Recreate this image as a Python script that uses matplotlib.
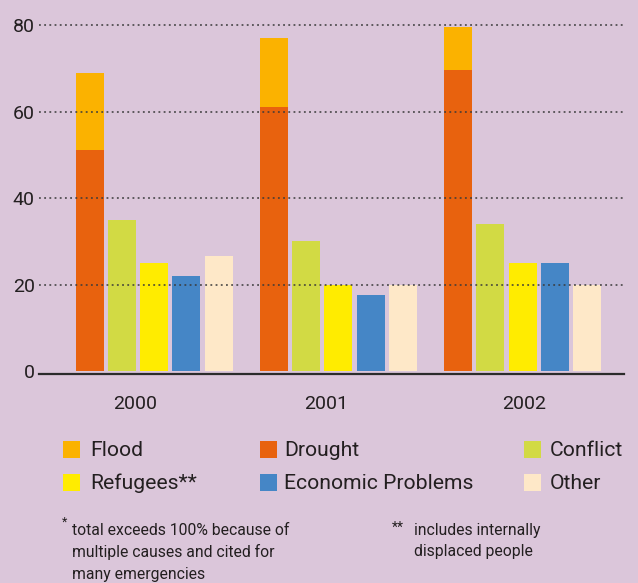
import matplotlib
matplotlib.use("Agg")
import matplotlib.pyplot as plt
from matplotlib.patches import Rectangle
import numpy as np

plt.rcParams['font.family'] = ['Roboto', 'DejaVu Sans']

# ---- data ----
years = ["2000", "2001", "2002"]
drought = [51, 61, 69.5]
flood = [18, 16, 10]          # stacked on top of drought
conflict = [35, 30, 34]
refugees = [25, 20, 25]
economic = [22, 17.5, 25]
other = [26.5, 20, 20]
yticks = [0, 20, 40, 60, 80]

colors = {
    "Flood": "#fbb200",
    "Drought": "#e8620e",
    "Conflict": "#d2da44",
    "Refugees": "#ffec00",
    "Economic": "#4586c6",
    "Other": "#fee8c8",
}
bg = "#dbc6da"
txt = "#231f20"

W, H = 638, 583
fig = plt.figure(figsize=(W / 100, H / 100), dpi=100, facecolor=bg)


def fx(x):
    return x / W


def fy(y):
    return 1 - y / H


ax = fig.add_axes([fx(39), fy(374), fx(624) - fx(39), fy(16) - fy(374)])
ax.set_facecolor(bg)

x = np.arange(len(years))
w = 0.152
step = 0.1753

ax.bar(x - 2 * step, drought, w, color=colors["Drought"], zorder=3)
ax.bar(x - 2 * step, flood, w, bottom=drought, color=colors["Flood"], zorder=3)
ax.bar(x - 1 * step, conflict, w, color=colors["Conflict"], zorder=3)
ax.bar(x + 0 * step, refugees, w, color=colors["Refugees"], zorder=3)
ax.bar(x + 1 * step, economic, w, color=colors["Economic"], zorder=3)
ax.bar(x + 2 * step, other, w, color=colors["Other"], zorder=3)

ax.set_xlim(-0.625, 2.550)
ax.set_ylim(-0.69, 82.1)

for v in yticks[1:]:
    ax.axhline(v, color="#3a3a3a", linewidth=1.1, linestyle=(0, (1.2, 2.2)), zorder=4)

ax.set_yticks(yticks)
ax.set_yticklabels([str(v) for v in yticks])
label_offsets = [-0.104, -0.069, 0.008]
ax.set_xticks(x + np.array(label_offsets))
ax.set_xticklabels(years)
ax.tick_params(axis="y", length=0, pad=3, labelsize=14, labelcolor=txt)
ax.tick_params(axis="x", length=0, pad=15, labelsize=14, labelcolor=txt)

for s in ["left", "right", "top"]:
    ax.spines[s].set_visible(False)
ax.spines["bottom"].set_color("#2b2b2b")
ax.spines["bottom"].set_linewidth(1.6)
ax.spines["bottom"].set_zorder(5)

# ---- legend ----
legend_items = [
    ("Flood", "Flood", 62.7, 441, 90),
    ("Drought", "Drought", 260, 441, 284),
    ("Conflict", "Conflict", 524, 441, 550),
    ("Refugees", "Refugees**", 62.7, 473.5, 90),
    ("Economic", "Economic Problems", 260, 473.5, 284),
    ("Other", "Other", 524, 473.5, 550),
]
for key, label, sx, sy, tx in legend_items:
    fig.patches.append(Rectangle((fx(sx), fy(sy + 17)), 17 / W, 17 / H,
                                 transform=fig.transFigure, facecolor=colors[key],
                                 edgecolor="none"))
    fig.text(fx(tx), fy(sy + 15.5), label, fontsize=15.2, color=txt, va="baseline", ha="left")

# ---- footnotes ----
fig.text(fx(62), fy(516), "*", fontsize=9, color=txt, va="top", ha="left")
for i, line in enumerate(["total exceeds 100% because of",
                          "multiple causes and cited for",
                          "many emergencies"]):
    fig.text(fx(72), fy(535 + 22 * i), line, fontsize=11.3, color=txt, va="baseline", ha="left")

fig.text(fx(392), fy(532), "**", fontsize=10, color=txt, va="baseline", ha="left")
for i, line in enumerate(["includes internally", "displaced people"]):
    fig.text(fx(414), fy(535 + 21 * i), line, fontsize=11.3, color=txt, va="baseline", ha="left")

fig.savefig("out.png", dpi=100, facecolor=bg)
